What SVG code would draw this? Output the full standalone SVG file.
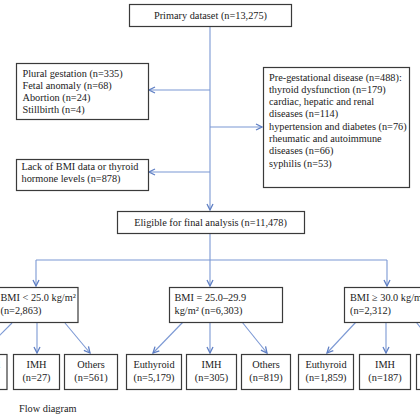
<svg xmlns="http://www.w3.org/2000/svg" width="420" height="420" viewBox="0 0 420 420">
<defs>
<style>
.box{fill:#fff;stroke:#3a3a3a;stroke-width:1.2}
.t{font-family:"Liberation Serif","Times New Roman",serif;font-size:10.3px;fill:#222}
.c{text-anchor:middle}
.ln{stroke:#7b98d4;stroke-width:1.1;fill:none}
</style>
<marker id="ah" viewBox="0 0 8 8" refX="7" refY="4" markerWidth="8" markerHeight="8" markerUnits="userSpaceOnUse" orient="auto">
<path d="M1,1 L7,4 L1,7" fill="none" stroke="#5f7fc4" stroke-width="1.3"/>
</marker>
</defs>
<rect width="420" height="420" fill="#fff"/>
<g id="connectors">
<path class="ln" d="M210,26 V210" marker-end="url(#ah)"/>
<path class="ln" d="M210,90 H149" marker-end="url(#ah)"/>
<path class="ln" d="M210,127 H262" marker-end="url(#ah)"/>
<path class="ln" d="M210,172 H149" marker-end="url(#ah)"/>
<path class="ln" d="M210,233 V260 M36,260 H387"/>
<path class="ln" d="M36,260 V286" marker-end="url(#ah)"/>
<path class="ln" d="M210,260 V286" marker-end="url(#ah)"/>
<path class="ln" d="M387,260 V286" marker-end="url(#ah)"/>
<path class="ln" d="M12,323 L-18,353" marker-end="url(#ah)"/>
<path class="ln" d="M37,323 V353" marker-end="url(#ah)"/>
<path class="ln" d="M65,323 L90,353" marker-end="url(#ah)"/>
<path class="ln" d="M183,322 L153,353" marker-end="url(#ah)"/>
<path class="ln" d="M210,322 V353" marker-end="url(#ah)"/>
<path class="ln" d="M242,322 L267,353" marker-end="url(#ah)"/>
<path class="ln" d="M356,322 L327,353" marker-end="url(#ah)"/>
<path class="ln" d="M386,322 V353" marker-end="url(#ah)"/>
<path class="ln" d="M416,322 L441,353" marker-end="url(#ah)"/>
</g>
<g id="primary">
<rect class="box" x="129.5" y="4.5" width="162" height="22"/>
<text class="t c" x="210.5" y="19">Primary dataset (n=13,275)</text>
</g>
<g id="excluded1">
<rect class="box" x="16.5" y="63.5" width="132" height="56"/>
<text class="t" x="22.5" y="76.5">Plural gestation (n=335)</text>
<text class="t" x="22.5" y="88.8">Fetal anomaly (n=68)</text>
<text class="t" x="22.5" y="101.1">Abortion (n=24)</text>
<text class="t" x="22.5" y="113.4">Stillbirth (n=4)</text>
</g>
<g id="excluded2">
<rect class="box" x="263.5" y="67.5" width="146" height="120"/>
<text class="t" x="269" y="80.5">Pre-gestational disease (n=488):</text>
<text class="t" x="269" y="92.8">thyroid dysfunction (n=179)</text>
<text class="t" x="269" y="105.1">cardiac, hepatic and renal</text>
<text class="t" x="269" y="117.4">diseases (n=114)</text>
<text class="t" x="269" y="129.7">hypertension and diabetes (n=76)</text>
<text class="t" x="269" y="142">rheumatic and autoimmune</text>
<text class="t" x="269" y="154.3">diseases (n=66)</text>
<text class="t" x="269" y="166.6">syphilis (n=53)</text>
</g>
<g id="excluded3">
<rect class="box" x="16.5" y="159.5" width="132" height="31"/>
<text class="t" x="21.5" y="169.8">Lack of BMI data or thyroid</text>
<text class="t" x="21.5" y="182.1">hormone levels (n=878)</text>
</g>
<g id="eligible">
<rect class="box" x="117.5" y="211.5" width="187" height="22"/>
<text class="t c" x="210.5" y="226">Eligible for final analysis (n=11,478)</text>
</g>
<g id="bmi1">
<rect class="box" x="-35" y="287.5" width="113" height="35"/>
<text class="t" x="0.5" y="300.6">BMI &lt; 25.0 kg/m²</text>
<text class="t" x="0.5" y="314">(n=2,863)</text>
</g>
<g id="bmi2">
<rect class="box" x="169.5" y="287.5" width="113" height="35"/>
<text class="t" x="174.5" y="300.6">BMI = 25.0–29.9</text>
<text class="t" x="174.5" y="314">kg/m² (n=6,303)</text>
</g>
<g id="bmi3">
<rect class="box" x="344.5" y="287.5" width="113" height="35"/>
<text class="t" x="350" y="300.6">BMI ≥ 30.0 kg/m²</text>
<text class="t" x="350" y="314">(n=2,312)</text>
</g>
<g id="n1a"><rect class="box" x="-48" y="354.5" width="55" height="35"/><text class="t c" x="-20.5" y="367.5">Euthyroid</text><text class="t c" x="-20.5" y="380.5">(n=2,275)</text></g>
<g id="n1b"><rect class="box" x="13.5" y="354.5" width="46" height="35"/><text class="t c" x="36.5" y="367.5">IMH</text><text class="t c" x="36.5" y="380.5">(n=27)</text></g>
<g id="n1c"><rect class="box" x="64.5" y="354.5" width="53" height="35"/><text class="t c" x="91" y="367.5">Others</text><text class="t c" x="91" y="380.5">(n=561)</text></g>
<g id="n2a"><rect class="box" x="126.5" y="354.5" width="55" height="35"/><text class="t c" x="154" y="367.5">Euthyroid</text><text class="t c" x="154" y="380.5">(n=5,179)</text></g>
<g id="n2b"><rect class="box" x="186.5" y="354.5" width="50" height="35"/><text class="t c" x="211.5" y="367.5">IMH</text><text class="t c" x="211.5" y="380.5">(n=305)</text></g>
<g id="n2c"><rect class="box" x="241.5" y="354.5" width="49" height="35"/><text class="t c" x="266" y="367.5">Others</text><text class="t c" x="266" y="380.5">(n=819)</text></g>
<g id="n3a"><rect class="box" x="298.5" y="354.5" width="55" height="35"/><text class="t c" x="326" y="367.5">Euthyroid</text><text class="t c" x="326" y="380.5">(n=1,859)</text></g>
<g id="n3b"><rect class="box" x="359.5" y="354.5" width="51" height="35"/><text class="t c" x="385" y="367.5">IMH</text><text class="t c" x="385" y="380.5">(n=187)</text></g>
<g id="n3c"><rect class="box" x="416.5" y="354.5" width="50" height="35"/><text class="t c" x="441.5" y="367.5">Others</text><text class="t c" x="441.5" y="380.5">(n=266)</text></g>
<text class="t" x="19" y="411.5">Flow diagram</text>
</svg>
